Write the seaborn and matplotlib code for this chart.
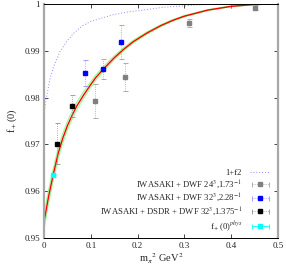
import numpy as np
import pandas as pd
import matplotlib
matplotlib.use("Agg")
import matplotlib.pyplot as plt
import seaborn as sns
from matplotlib.container import ErrorbarContainer
from matplotlib.legend_handler import HandlerErrorbar

# fit curve f+(0) vs m_pi^2
fit_x = [0, 0.01, 0.02, 0.03, 0.04, 0.05, 0.06, 0.07, 0.085, 0.1, 0.11, 0.127, 0.15, 0.17,
         0.19, 0.22, 0.25, 0.275, 0.3, 0.35, 0.4, 0.45, 0.5]
fit_y = [0.9535, 0.9590, 0.9637, 0.9680, 0.9713, 0.9740, 0.9762, 0.9782, 0.9806, 0.9828,
         0.9842, 0.9861, 0.9885, 0.9903, 0.9919, 0.9938, 0.9954, 0.9965, 0.9974, 0.9987,
         0.9995, 0.9999, 1.0000]
fit_err = [0.0016, 0.0014, 0.0012, 0.0011, 0.0010, 0.0009, 0.00085, 0.0008, 0.0007, 0.0006,
           0.00055, 0.0005, 0.0004, 0.00035, 0.0003, 0.00025, 0.0002, 0.00018, 0.00015,
           0.0001, 0.0001, 0.00005, 0.0]

# 1+f2
f2_x = [0, 0.005, 0.0128, 0.02, 0.034, 0.05, 0.063, 0.08, 0.098, 0.12, 0.148, 0.184,
        0.205, 0.255, 0.312, 0.35, 0.4, 0.5]
f2_y = [0.9765, 0.9800, 0.9840, 0.9865, 0.9898, 0.9922, 0.9937, 0.9952, 0.9962, 0.9969,
        0.9977, 0.9984, 0.9986, 0.9993, 0.9997, 0.9999, 1.0, 1.0]

gray_x = [0.108, 0.173, 0.309, 0.450]
gray_y = [0.9793, 0.9843, 0.9959, 0.9992]
gray_err = [0.0036, 0.0030, 0.0009, 0.0005]

blue_x = [0.0883, 0.1268, 0.1645]
blue_y = [0.9852, 0.9861, 0.9919]
blue_err = [0.0028, 0.0022, 0.0037]

black_x = [0.027, 0.0605]
black_y = [0.9701, 0.9782]
black_err = [0.0044, 0.0024]

phys_x = [0.0192]
phys_y = [0.9634]
phys_err = [0.0003]

labels = ["1+f2",
          "IWASAKI + DWF 24$^3$,1.73$^{-1}$",
          "IWASAKI + DWF 32$^3$,2.28$^{-1}$",
          "IWASAKI + DSDR + DWF 32$^3$,1.375$^{-1}$",
          "f$_+$(0)$^{phys}$"]
xticks = [0, 0.1, 0.2, 0.3, 0.4, 0.5]
xtick_labels = ["0", "0.1", "0.2", "0.3", "0.4", "0.5"]
yticks = [0.95, 0.96, 0.97, 0.98, 0.99, 1.0]
ytick_labels = ["0.95", "0.96", "0.97", "0.98", "0.99", "1"]

sns.set_theme(style="ticks")
plt.rcParams["font.family"] = ["Liberation Serif", "DejaVu Serif"]
plt.rcParams["mathtext.fontset"] = "stix"

fig = plt.figure(figsize=(2.86, 2.67), dpi=100)
ax = fig.add_axes([0.154, 0.109, 0.818, 0.876])

fit = pd.DataFrame({"x": fit_x, "y": fit_y, "e": fit_err})
fit["lo"] = fit["y"] - fit["e"]
fit["hi"] = fit["y"] + fit["e"]
sns.lineplot(data=fit, x="x", y="lo", color="#90ff90", lw=0.8, ax=ax)
sns.lineplot(data=fit, x="x", y="hi", color="#90ff90", lw=0.8, ax=ax)
sns.lineplot(data=fit, x="x", y="y", color="red", lw=1.0, ax=ax)

f2 = pd.DataFrame({"x": f2_x, "y": f2_y})
sns.lineplot(data=f2, x="x", y="y", color="#8c8cff", lw=0.7, ls=(0, (1, 2)), ax=ax,
             label=labels[0])


def points(xs, ys, es, color, ecolor, label, ls=":"):
    eb = ax.errorbar(xs, ys, yerr=es, fmt="s", color=color, ecolor=ecolor, ms=3.2,
                     capsize=1.8, elinewidth=0.6, capthick=0.6, zorder=5)
    eb[2][0].set_linestyle(ls)
    # legend proxy drawn gnuplot style: horizontal bar with caps
    px = ax.errorbar([np.nan], [np.nan], xerr=[1], fmt="s", color=color, ecolor=ecolor,
                     ms=3.2, capsize=1.8, elinewidth=0.6, capthick=0.6, label=label)
    px[2][0].set_linestyle(ls)


points(gray_x, gray_y, gray_err, "#808080", "#a0a0a0", labels[1])
points(blue_x, blue_y, blue_err, "#0000ff", "#9090ff", labels[2])
points(black_x, black_y, black_err, "black", "#909090", labels[3])
points(phys_x, phys_y, phys_err, "#00ffff", "#00ffff", labels[4], ls="-")

ax.set_xlim(0, 0.5)
ax.set_ylim(0.95, 1.0)
ax.set_xticks(xticks)
ax.set_xticklabels(xtick_labels)
ax.set_yticks(yticks)
ax.set_yticklabels(ytick_labels)
ax.tick_params(direction="in", length=3, width=0.6, labelsize=6.5, top=True, right=True,
               pad=3)
ax.set_xlabel(r"m$_\pi$$^2$ GeV$^2$", fontsize=7.5, labelpad=1)
ax.set_ylabel(r"f$_+$(0)", fontsize=7.5, labelpad=4)

for side in ["left", "right"]:
    ax.spines[side].set_color("#a8a8a8")
    ax.spines[side].set_linewidth(1.6)
for side in ["top", "bottom"]:
    ax.spines[side].set_color("black")
    ax.spines[side].set_linewidth(0.7)

handles, labs = ax.get_legend_handles_labels()
order = [labs.index(l) for l in labels]
leg = ax.legend([handles[i] for i in order], [labs[i] for i in order],
                loc="lower right", bbox_to_anchor=(0.99, 0.0), frameon=False,
                markerfirst=False, fontsize=6.2, handlelength=2.4, handletextpad=0.9,
                labelspacing=0.12, borderaxespad=0.2,
                handler_map={ErrorbarContainer: HandlerErrorbar(xerr_size=1.0)})

fig.savefig("out.png", dpi=100)
